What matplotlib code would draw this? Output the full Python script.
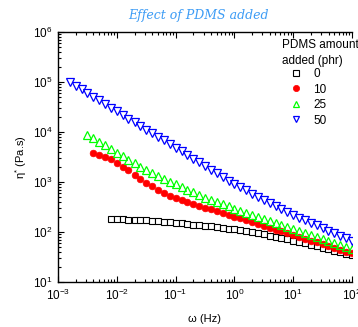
import matplotlib
matplotlib.use("Agg")
import matplotlib.pyplot as plt

plt.rcParams["font.family"] = ["Liberation Sans", "DejaVu Sans"]
plt.rcParams["mathtext.fontset"] = "custom"
plt.rcParams["mathtext.rm"] = "Liberation Sans"
plt.rcParams["mathtext.default"] = "regular"

# -----------------------------------------
# data (frequency sweep, Hz)
# -----------------------------------------
freq = [0.00158, 0.002, 0.00251, 0.00316, 0.00398, 0.00501, 0.00631, 0.00794,
        0.01, 0.0126, 0.0158, 0.02, 0.0251, 0.0316, 0.0398, 0.0501, 0.0631, 0.0794,
        0.1, 0.126, 0.158, 0.2, 0.251, 0.316, 0.398, 0.501, 0.631, 0.794,
        1, 1.26, 1.58, 2, 2.51, 3.16, 3.98, 5.01, 6.31, 7.94,
        10, 12.6, 15.8, 20, 25.1, 31.6, 39.8, 50.1, 63.1, 79.4, 100]

eta_0 = [186, 178, 178, 176, 174, 172, 170, 166, 164, 160, 157, 153, 150, 146,
         141, 138, 133, 129, 126, 122, 117, 114, 108, 104, 98.9, 94.4, 90.2,
         85.1, 80.4, 75.9, 71.6, 67.6, 63.1, 59.6, 55.6, 51.9, 48.4, 45.2,
         42.2, 39.4, 36.7, 34.3]

eta_10 = [3720, 3470, 3160, 2820, 2450, 2040, 1700, 1380, 1150, 955, 813, 692,
          603, 525, 468, 430, 395, 364, 335, 308, 284, 261, 240, 221, 204, 187,
          172, 158, 145, 133, 122, 112, 103, 94.8, 87.1, 80.0, 73.5, 67.5, 61.9,
          56.9, 52.2, 48.0, 44.1, 40.5, 37.2]

eta_25 = [8900, 7550, 6400, 5420, 4590, 3890, 3300, 2790, 2370, 2000, 1700,
          1500, 1320, 1160, 1020, 902, 794, 700, 617, 543, 479, 435, 394, 358,
          325, 295, 269, 244, 222, 202, 184, 167, 152, 139, 126, 115, 104, 95.1,
          86.5, 78.7, 71.6, 65.2, 59.3, 54.0, 49.1, 44.7]

eta_50 = [100000, 84500, 71400, 60400, 51100, 43200, 36500, 30800, 26100, 22000,
          18600, 15700, 13300, 11200, 9510, 8040, 6790, 5740, 4850, 4100, 3470,
          2930, 2480, 2090, 1770, 1500, 1260, 1070, 904, 782, 678, 586, 508, 440,
          381, 330, 286, 247, 214, 191, 170, 151, 135, 120, 107, 95.5, 85.1,
          75.9, 67.6]

labels = ["0", "10", "25", "50"]


def plot_chart():
    fig = plt.figure(figsize=(3.58, 3.27), dpi=100)
    ax = fig.add_axes([58 / 358, 1 - 282 / 327, 294 / 358, 250 / 327])

    ax.plot(freq[-len(eta_0):], eta_0, "s", ls="none", ms=4, mfc="white",
            mec="black", mew=0.8, label=labels[0])
    ax.plot(freq[-len(eta_10):], eta_10, "o", ls="none", ms=4.8, mfc="#ff0000",
            mec="#ff0000", mew=0.5, label=labels[1])
    ax.plot(freq[-len(eta_25):], eta_25, "^", ls="none", ms=5.5, mfc="none",
            mec="#00ff00", mew=0.9, label=labels[2])
    ax.plot(freq[-len(eta_50):], eta_50, "v", ls="none", ms=5.5, mfc="none",
            mec="#0000ff", mew=0.9, label=labels[3])

    ax.set_xscale("log")
    ax.set_yscale("log")
    ax.set_xlim(1e-3, 1e2)
    ax.set_ylim(1e1, 1e6)

    ax.spines["right"].set_visible(False)
    for s in ("left", "bottom", "top"):
        ax.spines[s].set_linewidth(1.0)
    ax.tick_params(which="both", direction="in", top=True, right=False,
                   labelsize=8.5, width=0.8, pad=4)
    ax.tick_params(which="major", length=4)
    ax.tick_params(which="minor", length=2)

    ax.set_xlabel("\u03c9 (Hz)", fontsize=8, labelpad=8)
    ax.set_ylabel("\u03b7$^{*}$ (Pa.s)", fontsize=8, labelpad=3)

    # legend title drawn separately so the entries can sit indented under it
    fig.text(282 / 358, 1 - 53 / 327, "PDMS amount\nadded (phr)", ha="left",
             va="center", fontsize=8.5, linespacing=1.4)
    leg = ax.legend(loc="upper left",
                    bbox_to_anchor=(290 / 358, 1 - 68 / 327),
                    bbox_transform=fig.transFigure, frameon=False,
                    fontsize=8.5, handlelength=1.0, handletextpad=0.95,
                    labelspacing=0.3, borderpad=0, borderaxespad=0)
    for h in leg.legend_handles:
        h.set_markersize(4.5)

    fig.text(198 / 358, 1 - 15 / 327, "Effect of PDMS added", ha="center",
             va="center", color="#3d9cf5", fontsize=9, style="italic",
             family="DejaVu Serif")

    fig.savefig("out.png", dpi=100)


if __name__ == "__main__":
    plot_chart()
